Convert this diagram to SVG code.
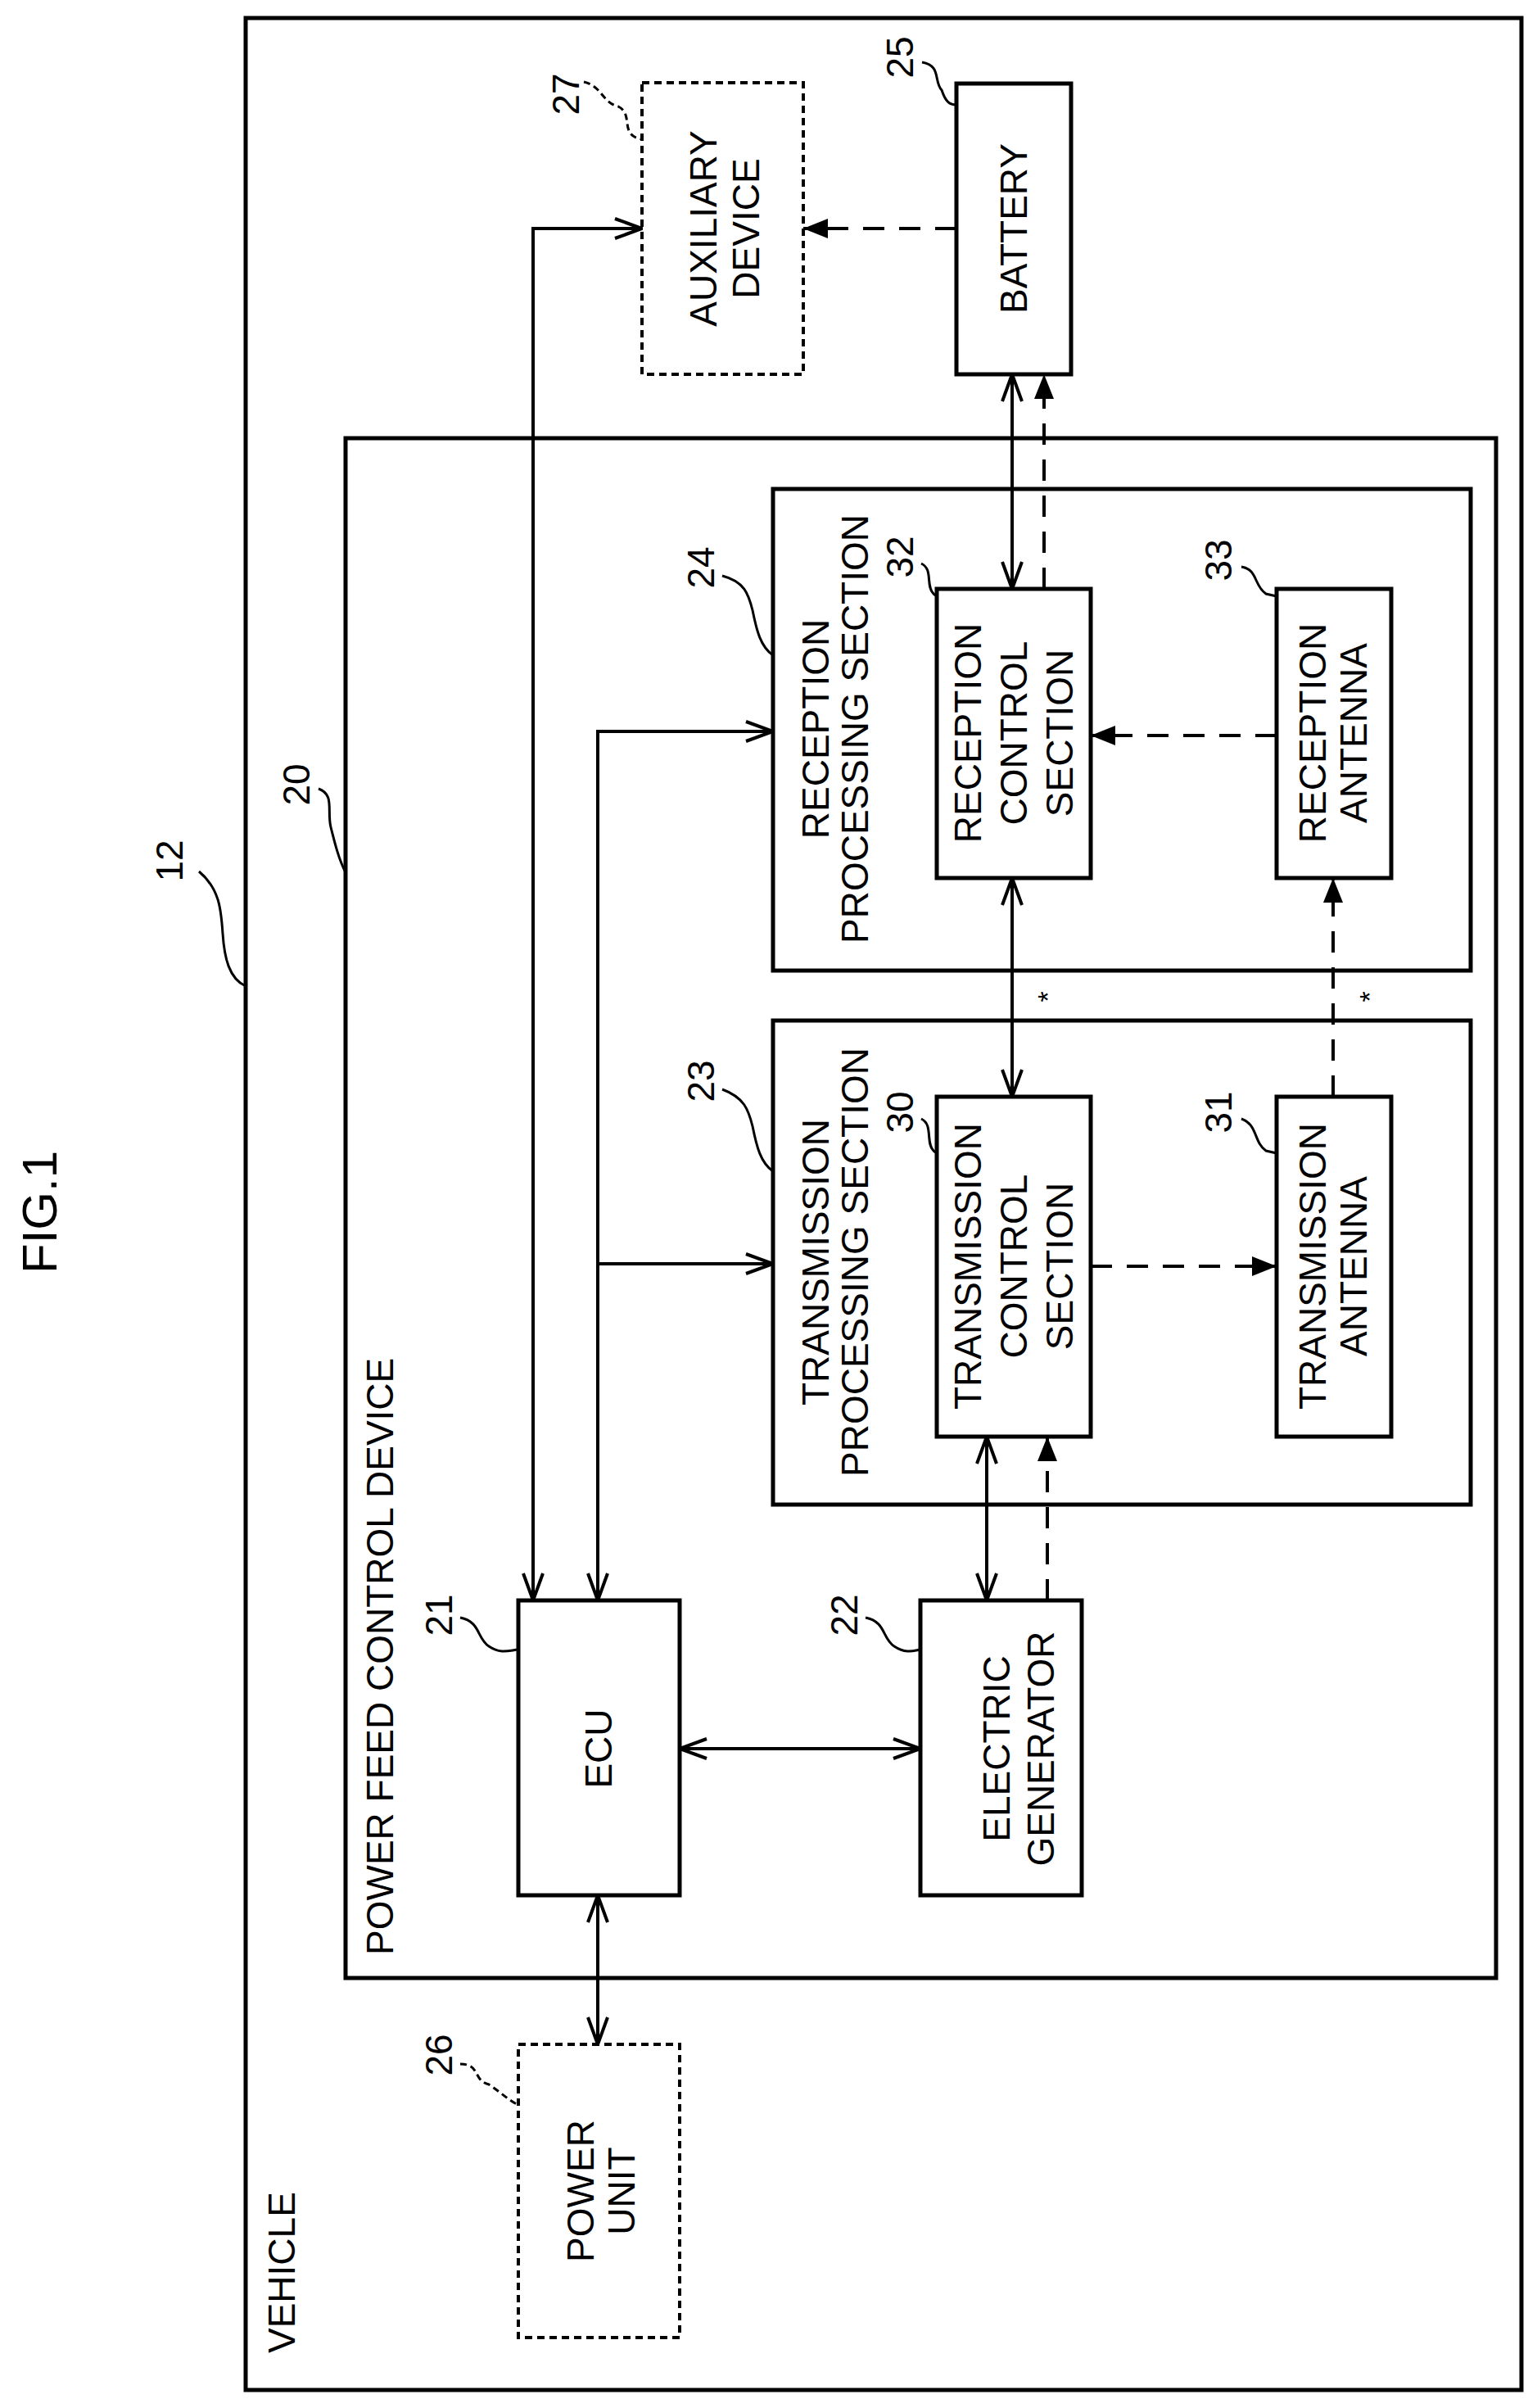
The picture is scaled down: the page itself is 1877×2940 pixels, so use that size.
<svg xmlns="http://www.w3.org/2000/svg" width="1877" height="2940" viewBox="0 0 1877 2940">
<style>
.b{fill:none;stroke:#000;stroke-width:5}
.d{fill:none;stroke:#000;stroke-width:4;stroke-dasharray:9 6}
.c{fill:none;stroke:#000;stroke-width:4}
.k{fill:none;stroke:#000;stroke-width:4;stroke-dasharray:26 18}
.l{fill:none;stroke:#000;stroke-width:3}
.ld{fill:none;stroke:#000;stroke-width:3;stroke-dasharray:8 5}
text{font-family:"Liberation Sans",Arial,sans-serif;font-size:46px;fill:#000;text-anchor:middle;dominant-baseline:central}
.s{text-anchor:start}
</style>
<defs>
<marker id="o" viewBox="0 0 36 30" refX="35" refY="15" markerWidth="36" markerHeight="30" markerUnits="userSpaceOnUse" orient="auto-start-reverse"><path d="M2,3 L35,15 L2,27" fill="none" stroke="#000" stroke-width="4"/></marker>
<marker id="f" viewBox="0 0 30 24" refX="30" refY="12" markerWidth="30" markerHeight="24" markerUnits="userSpaceOnUse" orient="auto"><path d="M0,0 L30,12 L0,24 Z" fill="#000"/></marker>
</defs>
<rect id="vehicle" class="b" x="300" y="22" width="1558" height="2896"/>
<rect id="pfcd" class="b" x="422" y="535" width="1405" height="1880"/>
<g id="aux"><rect class="d" x="784" y="101" width="197" height="356"/><text transform="translate(883,279) rotate(-90)"><tspan x="0" y="-24">AUXILIARY</tspan><tspan x="0" y="28">DEVICE</tspan></text></g>
<g id="battery"><rect class="b" x="1168" y="102" width="140" height="355"/><text transform="translate(1238,279) rotate(-90)">BATTERY</text></g>
<g id="rps"><rect class="b" x="944" y="597" width="852" height="588"/><text transform="translate(1018,890) rotate(-90)"><tspan x="0" y="-22">RECEPTION</tspan><tspan x="0" y="26">PROCESSING SECTION</tspan></text></g>
<g id="tps"><rect class="b" x="944" y="1246" width="852" height="591"/><text transform="translate(1018,1541) rotate(-90)"><tspan x="0" y="-22">TRANSMISSION</tspan><tspan x="0" y="26">PROCESSING SECTION</tspan></text></g>
<g id="rc"><rect class="b" x="1144" y="719" width="188" height="353"/><text transform="translate(1238,895) rotate(-90)"><tspan x="0" y="-56">RECEPTION</tspan><tspan x="0" y="0">CONTROL</tspan><tspan x="0" y="56">SECTION</tspan></text></g>
<g id="ra"><rect class="b" x="1559" y="719" width="140" height="353"/><text transform="translate(1629,895) rotate(-90)"><tspan x="0" y="-26">RECEPTION</tspan><tspan x="0" y="24">ANTENNA</tspan></text></g>
<g id="tc"><rect class="b" x="1144" y="1339" width="188" height="415"/><text transform="translate(1238,1546) rotate(-90)"><tspan x="0" y="-56">TRANSMISSION</tspan><tspan x="0" y="0">CONTROL</tspan><tspan x="0" y="56">SECTION</tspan></text></g>
<g id="ta"><rect class="b" x="1559" y="1339" width="140" height="415"/><text transform="translate(1629,1546) rotate(-90)"><tspan x="0" y="-26">TRANSMISSION</tspan><tspan x="0" y="24">ANTENNA</tspan></text></g>
<g id="ecu"><rect class="b" x="633" y="1954" width="197" height="360"/><text transform="translate(731,2135) rotate(-90)">ECU</text></g>
<g id="eg"><rect class="b" x="1124" y="1954" width="197" height="360"/><text transform="translate(1245,2135) rotate(-90)"><tspan x="0" y="-28">ELECTRIC</tspan><tspan x="0" y="26">GENERATOR</tspan></text></g>
<g id="pu"><rect class="d" x="633" y="2496" width="197" height="358"/><text transform="translate(733,2675) rotate(-90)"><tspan x="0" y="-24">POWER</tspan><tspan x="0" y="26">UNIT</tspan></text></g>
<g id="labels">
<text class="s" transform="translate(344,2873) rotate(-90)">VEHICLE</text>
<text class="s" transform="translate(464,2387) rotate(-90)">POWER FEED CONTROL DEVICE</text>
<text transform="translate(48,1480) rotate(-90)" style="font-size:60px">FIG.1</text>
<text transform="translate(691,115) rotate(-90)">27</text>
<text transform="translate(1099,70) rotate(-90)">25</text>
<text transform="translate(856,693) rotate(-90)">24</text>
<text transform="translate(1099,680) rotate(-90)">32</text>
<text transform="translate(1488,684) rotate(-90)">33</text>
<text transform="translate(362,958) rotate(-90)">20</text>
<text transform="translate(207,1051) rotate(-90)">12</text>
<text transform="translate(856,1320) rotate(-90)">23</text>
<text transform="translate(1099,1358) rotate(-90)">30</text>
<text transform="translate(1488,1358) rotate(-90)">31</text>
<text transform="translate(536,1972) rotate(-90)">21</text>
<text transform="translate(1031,1972) rotate(-90)">22</text>
<text transform="translate(536,2509) rotate(-90)">26</text>
<text transform="translate(1279,1217) rotate(-90)" style="font-size:34px">*</text>
<text transform="translate(1672,1217) rotate(-90)" style="font-size:34px">*</text>
</g>
<g id="leaders">
<path class="ld" d="M713,100 C735,105 735,125 755,130 C775,140 755,165 784,170"/>
<path class="l" d="M1126,76 C1150,80 1140,100 1150,110 C1155,125 1160,128 1168,128"/>
<path class="l" d="M882,703 C909,710 914,725 919,745 C924,770 929,790 944,800"/>
<path class="l" d="M1125,688 C1140,695 1130,715 1140,725 L1144,728"/>
<path class="l" d="M1516,692 C1536,695 1531,715 1546,725 L1559,728"/>
<path class="l" d="M389,963 C409,970 399,990 404,1010 C409,1030 414,1050 422,1065"/>
<path class="l" d="M243,1064 C268,1085 270,1110 272,1140 C274,1170 280,1195 300,1204"/>
<path class="l" d="M882,1330 C909,1340 914,1355 919,1375 C924,1400 929,1420 944,1430"/>
<path class="l" d="M1125,1366 C1140,1373 1130,1395 1140,1405 L1144,1408"/>
<path class="l" d="M1516,1366 C1536,1373 1531,1395 1546,1405 L1559,1408"/>
<path class="l" d="M562,1975 C587,1980 582,2000 597,2010 C612,2020 622,2015 633,2014"/>
<path class="l" d="M1057,1975 C1082,1980 1077,2000 1092,2010 C1107,2020 1117,2015 1124,2014"/>
<path class="ld" d="M562,2520 C587,2520 577,2540 597,2545 C612,2555 622,2565 633,2570"/>
</g>
<g id="connectors">
<path class="c" d="M651,1954 L651,279 L784,279" marker-end="url(#o)"/>
<path class="c" d="M651,279 L651,1954" marker-end="url(#o)"/>
<path class="c" d="M730,1954 L730,893 L944,893" marker-end="url(#o)"/>
<path class="c" d="M730,893 L730,1954" marker-end="url(#o)"/>
<path class="c" d="M730,1543 L944,1543" marker-end="url(#o)"/>
<path class="k" d="M1168,279 L981,279" marker-end="url(#f)"/>
<path class="c" d="M1236,457 L1236,719" marker-start="url(#o)" marker-end="url(#o)"/>
<path class="k" d="M1275,719 L1275,457" marker-end="url(#f)"/>
<path class="k" d="M1559,898 L1332,898" marker-end="url(#f)"/>
<path class="c" d="M1236,1072 L1236,1339" marker-start="url(#o)" marker-end="url(#o)"/>
<path class="k" d="M1628,1339 L1628,1072" marker-end="url(#f)"/>
<path class="k" d="M1332,1546 L1559,1546" marker-end="url(#f)"/>
<path class="c" d="M1205,1754 L1205,1954" marker-start="url(#o)" marker-end="url(#o)"/>
<path class="k" d="M1279,1954 L1279,1754" marker-end="url(#f)"/>
<path class="c" d="M830,2135 L1124,2135" marker-start="url(#o)" marker-end="url(#o)"/>
<path class="c" d="M730,2314 L730,2496" marker-start="url(#o)" marker-end="url(#o)"/>
</g>
</svg>
